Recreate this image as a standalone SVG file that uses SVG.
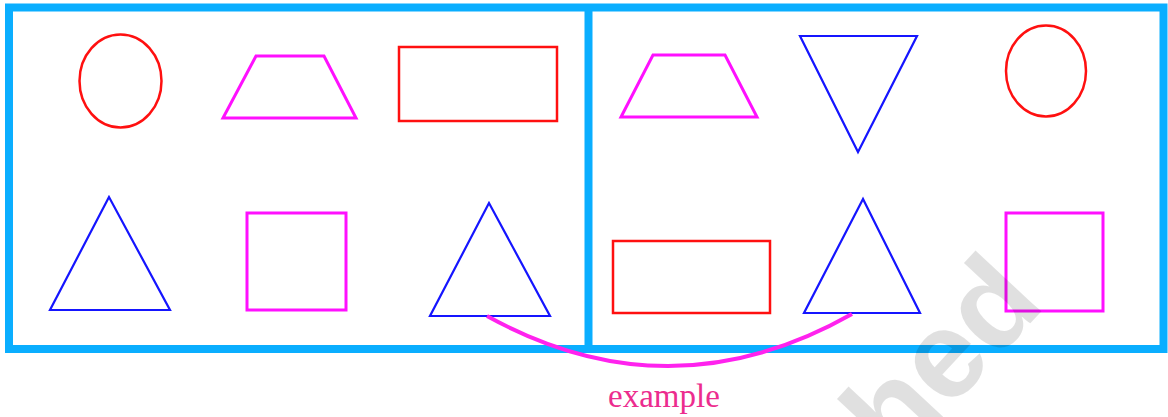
<svg xmlns="http://www.w3.org/2000/svg" width="1168" height="417" viewBox="0 0 1168 417">
<style>
.frame{fill:none;stroke:#0AAEFF;stroke-width:8}
.red{fill:none;stroke:#FF1010;stroke-width:2.5}
.mag{fill:none;stroke:#FF10FF;stroke-width:3}
.blue{fill:none;stroke:#1515FF;stroke-width:2.2;stroke-linejoin:miter}
.link{fill:none;stroke:#FF22EE;stroke-width:4}
.lbl{font-family:"Liberation Serif","Times New Roman",serif;font-size:33px;fill:#EC2C8E}
.wm{font-family:"Liberation Sans",Arial,sans-serif;font-weight:bold;font-size:124px;fill:#000;fill-opacity:0.12}
</style>
<g id="frame">
<rect class="frame" x="9" y="7.5" width="1154.5" height="341.5"/>
<line class="frame" x1="588.5" y1="7.5" x2="588.5" y2="349"/>
</g>
<g id="left-circle"><ellipse class="red" cx="120.5" cy="81" rx="41" ry="46.5"/></g>
<g id="left-trapezoid"><polygon class="mag" points="256,56 324,56 356,118 223,118"/></g>
<g id="left-rect"><rect class="red" x="399" y="47" width="158" height="74"/></g>
<g id="left-triangle-1"><polygon class="blue" points="109,197 50,310 170,310"/></g>
<g id="left-square"><rect class="mag" x="247" y="213" width="99" height="97"/></g>
<g id="left-triangle-2"><polygon class="blue" points="489,203 430,316 550,316"/></g>
<g id="right-trapezoid"><polygon class="mag" points="653,55 725,55 757,117 621,117"/></g>
<g id="right-inv-triangle"><polygon class="blue" points="800,36 917,36 858,152"/></g>
<g id="right-circle"><ellipse class="red" cx="1046" cy="71" rx="40" ry="45.5"/></g>
<g id="right-rect"><rect class="red" x="613" y="241" width="157" height="72"/></g>
<g id="right-triangle"><polygon class="blue" points="863,199 804,313 920,313"/></g>
<g id="right-square"><rect class="mag" x="1006" y="213" width="97" height="98"/></g>
<g id="connectors">
<path class="link" d="M487,316 Q670,417 852,314"/>
</g>
<g id="label"><text class="lbl" x="608" y="407">example</text></g>
<text class="wm" x="0" y="0" text-anchor="middle" transform="translate(972,386) rotate(-47)">hed</text>
</svg>
